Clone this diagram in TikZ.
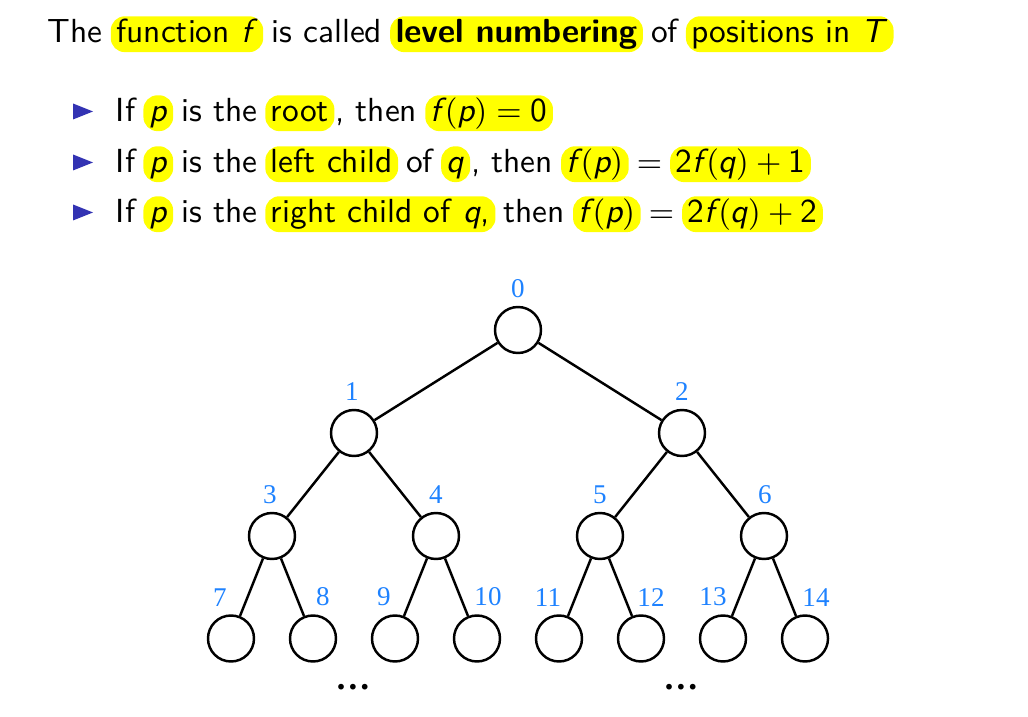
\documentclass[tikz,border=0pt]{standalone}
\usepackage{fontspec}
\newfontfamily\timesfont{Liberation Serif}
\definecolor{hlyellow}{RGB}{255,255,0}
\definecolor{structblue}{RGB}{51,51,179}
\definecolor{numblue}{RGB}{30,130,255}
\newcommand\sv[1]{\textsf{\itshape #1}}
\tikzset{
  wrd/.style={inner xsep=1.6pt, inner ysep=0.8pt, text height=6.8pt, text depth=1.8pt, anchor=base west},
  hl/.style={wrd, fill=hlyellow, rounded corners=4pt},
  vertex/.style={circle, draw, minimum size=0.46cm, inner sep=0pt},
  num/.style={font=\timesfont\fontsize{7.7}{9}\selectfont, text=numblue, inner sep=0pt},
}

\begin{document}
\begin{tikzpicture}[font=\sffamily\fontsize{9.5}{11.4}\selectfont, line width=0.7pt, label distance=0.07cm]
  \useasboundingbox (0,0) rectangle (10.28,7.16);
  % title line
  \node[wrd] (t1) at (0.41,6.73) {The};
  \node[hl] (t2) at (t1.base east) {function \sv{f}};
  \node[wrd] (t3) at (t2.base east) {is called};
  \node[hl] (t4) at (t3.base east) {\bfseries level numbering};
  \node[wrd] (t5) at (t4.base east) {of};
  \node[hl] (t6) at (t5.base east) {positions in \sv{T}};
  % first bullet
  \node[wrd] (a1) at (1.09,5.94) {If};
  \node[hl] (a2) at (a1.base east) {\sv{p}};
  \node[wrd] (a3) at (a2.base east) {is the};
  \node[hl] (a4) at (a3.base east) {root};
  \node[wrd, xshift=-2pt] (a5) at (a4.base east) {, then};
  \node[hl] (a6) at (a5.base east) {$\sv{f}\mkern2mu(\sv{p}) = \textsf{0}$};
  % second bullet
  \node[wrd] (b1) at (1.09,5.43) {If};
  \node[hl] (b2) at (b1.base east) {\sv{p}};
  \node[wrd] (b3) at (b2.base east) {is the};
  \node[hl] (b4) at (b3.base east) {left child};
  \node[wrd] (b5) at (b4.base east) {of};
  \node[hl] (b6) at (b5.base east) {\sv{q}};
  \node[wrd, xshift=-2pt] (b7) at (b6.base east) {, then};
  \node[hl] (b8) at (b7.base east) {$\sv{f}\mkern2mu(\sv{p})$};
  \node[wrd] (b9) at (b8.base east) {$=$};
  \node[hl] (b10) at (b9.base east) {$\textsf{2}\sv{f}\mkern2mu(\sv{q}) + \textsf{1}$};
  % third bullet
  \node[wrd] (c1) at (1.09,4.93) {If};
  \node[hl] (c2) at (c1.base east) {\sv{p}};
  \node[wrd] (c3) at (c2.base east) {is the};
  \node[hl] (c4) at (c3.base east) {right child of \sv{q},};
  \node[wrd] (c5) at (c4.base east) {then};
  \node[hl] (c6) at (c5.base east) {$\sv{f}\mkern2mu(\sv{p})$};
  \node[wrd] (c7) at (c6.base east) {$=$};
  \node[hl] (c8) at (c7.base east) {$\textsf{2}\sv{f}\mkern2mu(\sv{q}) + \textsf{2}$};
  % bullets
  \fill[structblue] ([shift={(-0.36,0.025)}]a1.base west) -- ++(0,0.16) -- ++(0.2,-0.08) -- cycle;
  \fill[structblue] ([shift={(-0.36,0.025)}]b1.base west) -- ++(0,0.16) -- ++(0.2,-0.08) -- cycle;
  \fill[structblue] ([shift={(-0.36,0.025)}]c1.base west) -- ++(0,0.16) -- ++(0.2,-0.08) -- cycle;
  % tree
  \node[vertex, label={[num]above:0}] (n0) at (5.18,3.86) {};
  \node[vertex, label={[num,xshift=-0.02cm]above:1}] (n1) at (3.54,2.83) {};
  \node[vertex, label={[num]above:2}] (n2) at (6.82,2.83) {};
  \node[vertex, label={[num,xshift=-0.02cm]above:3}] (n3) at (2.72,1.80) {};
  \node[vertex, label={[num]above:4}] (n4) at (4.36,1.80) {};
  \node[vertex, label={[num]above:5}] (n5) at (6.00,1.80) {};
  \node[vertex, label={[num,xshift=0.01cm]above:6}] (n6) at (7.64,1.80) {};
  \node[vertex, label={[num,xshift=-0.11cm]above:7}] (n7) at (2.31,0.775) {};
  \node[vertex, label={[num,xshift=0.10cm]above:8}] (n8) at (3.13,0.775) {};
  \node[vertex, label={[num,xshift=-0.11cm]above:9}] (n9) at (3.95,0.775) {};
  \node[vertex, label={[num,xshift=0.11cm]above:10}] (n10) at (4.77,0.775) {};
  \node[vertex, label={[num,xshift=-0.11cm]above:11}] (n11) at (5.59,0.775) {};
  \node[vertex, label={[num,xshift=0.10cm]above:12}] (n12) at (6.41,0.775) {};
  \node[vertex, label={[num,xshift=-0.10cm]above:13}] (n13) at (7.23,0.775) {};
  \node[vertex, label={[num,xshift=0.11cm]above:14}] (n14) at (8.05,0.775) {};
  \node[num, text=black, font=\timesfont\fontsize{10}{12}\bfseries] (d1) at (3.53,0.29) {\ldots};
  \node[num, text=black, font=\timesfont\fontsize{10}{12}\bfseries] (d2) at (6.81,0.29) {\ldots};
  \draw (n0) -- (n1);
  \draw (n0) -- (n2);
  \draw (n1) -- (n3);
  \draw (n1) -- (n4);
  \draw (n2) -- (n5);
  \draw (n2) -- (n6);
  \draw (n3) -- (n7);
  \draw (n3) -- (n8);
  \draw (n4) -- (n9);
  \draw (n4) -- (n10);
  \draw (n5) -- (n11);
  \draw (n5) -- (n12);
  \draw (n6) -- (n13);
  \draw (n6) -- (n14);
\end{tikzpicture}
\end{document}
